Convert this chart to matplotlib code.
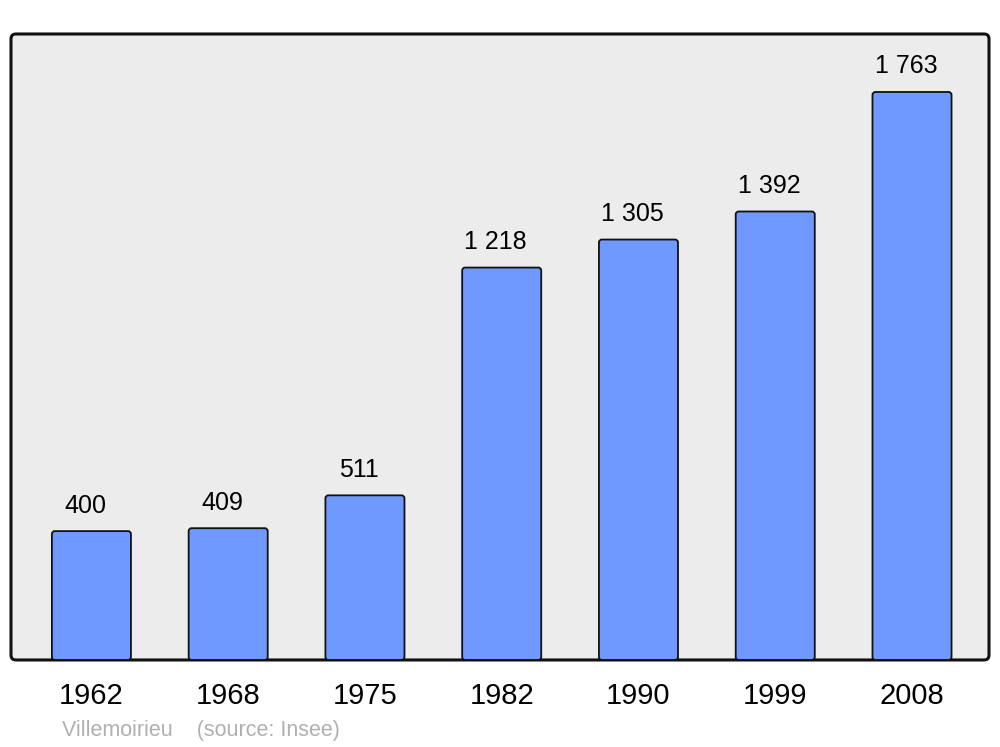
import matplotlib.pyplot as plt
from matplotlib.patches import FancyBboxPatch

plt.rcParams['font.family'] = ['Liberation Sans', 'DejaVu Sans']

# Data
years = ["1962", "1968", "1975", "1982", "1990", "1999", "2008"]
population = [400, 409, 511, 1218, 1305, 1392, 1763]
value_labels = ["400", "409", "511", "1 218", "1 305", "1 392", "1 763"]

fig = plt.figure(figsize=(10, 7.47), dpi=100)
ax = fig.add_axes([0.011, 0.1165, 0.978, 0.838])
ax.set_xlim(-0.588, 6.563)
ax.set_ylim(0, 1943)
ax.set_facecolor("none")
for s in ax.spines.values():
    s.set_visible(False)

# rounded background frame
frame = FancyBboxPatch((0, 0), 1, 1,
                       boxstyle="round,pad=0,rounding_size=0.005",
                       transform=ax.transAxes, facecolor="#ececec",
                       edgecolor="#111111", linewidth=2.2, zorder=0,
                       mutation_aspect=978 / 626, clip_on=False)
ax.add_patch(frame)

# bars with small rounded corners
xs = list(range(len(years)))
width = 0.578
bars = ax.bar(xs, population, width=width, color="none", edgecolor="none")
y_per_px = 1943 / 626
x_per_px = (6.563 + 0.588) / 978
for rect in bars:
    p = FancyBboxPatch((rect.get_x(), 0), rect.get_width(), rect.get_height(),
                       boxstyle="round,pad=0,rounding_size=%f" % (3 * x_per_px),
                       mutation_aspect=y_per_px / x_per_px,
                       facecolor="#7099ff", edgecolor="#111111",
                       linewidth=1.3, zorder=2)
    ax.add_patch(p)

for x, v, lab in zip(xs, population, value_labels):
    ax.text(x - 0.045, v + 42, lab, ha="center", va="bottom", fontsize=18,
            zorder=3)

ax.set_xticks(xs)
ax.set_xticklabels(years, fontsize=21)
ax.tick_params(axis="x", length=0, pad=16)
ax.set_yticks([])

fig.text(0.062, 0.008, "Villemoirieu    (source: Insee)", fontsize=15.5,
         color="#b0b0b0", ha="left", va="bottom")

fig.savefig("out.png", dpi=100)
